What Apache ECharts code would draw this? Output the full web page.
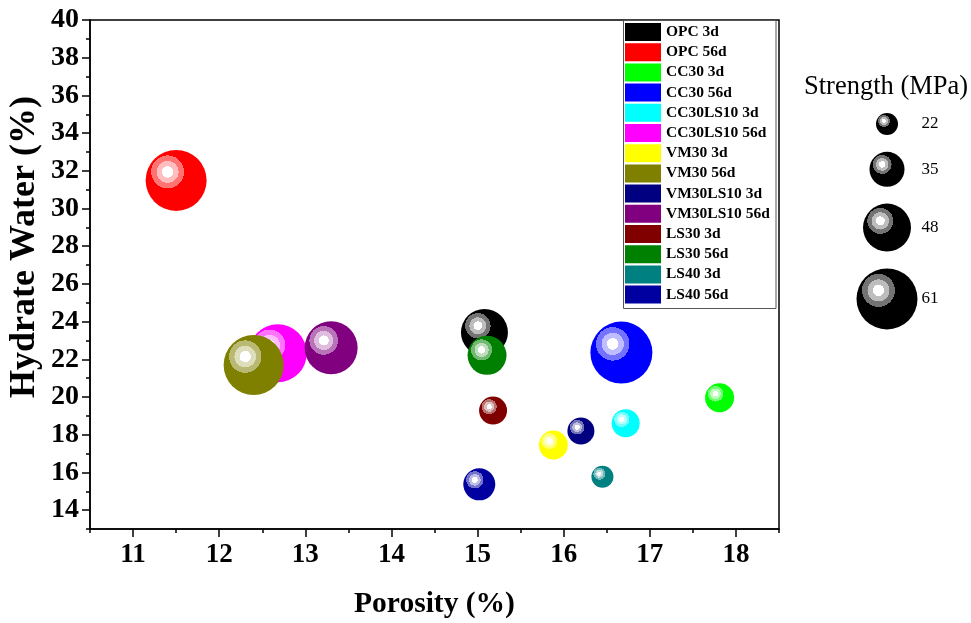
<!DOCTYPE html>
<html>
<head>
<meta charset="utf-8">
<script src="https://cdn.jsdelivr.net/npm/echarts@6/dist/echarts.min.js"></script>
<style>
html,body{margin:0;padding:0;background:#fff;}
#chart{width:971px;height:623px;}
</style>
</head>
<body>
<div id="chart"></div>
<script>
// ---- data ----
const categories = ['OPC 3d', 'OPC 56d', 'CC30 3d', 'CC30 56d', 'CC30LS10 3d', 'CC30LS10 56d', 'VM30 3d', 'VM30 56d', 'VM30LS10 3d', 'VM30LS10 56d', 'LS30 3d', 'LS30 56d', 'LS40 3d', 'LS40 56d'];
const porosity     = [15.08, 11.50, 17.81, 16.67, 16.72, 12.68, 15.88, 12.40, 16.20, 13.30, 15.18, 15.11, 16.45, 15.02];
const hydrateWater = [23.43, 31.49, 19.96, 22.36, 18.61, 22.32, 17.45, 21.70, 18.20, 22.61, 19.28, 22.21, 15.77, 15.37];
const strength     = [47, 61, 29, 62, 28, 58, 29, 60, 27, 53, 28, 39, 22, 32];
const sizeLegendValues = [22, 35, 48, 61];
const xMajorTicks = [11, 12, 13, 14, 15, 16, 17, 18];
const xMinorTicks = [10.5, 11.5, 12.5, 13.5, 14.5, 15.5, 16.5, 17.5, 18.5];
const yMajorTicks = [14, 16, 18, 20, 22, 24, 26, 28, 30, 32, 34, 36, 38, 40];
const yMinorTicks = [13, 15, 17, 19, 21, 23, 25, 27, 29, 31, 33, 35, 37, 39];

// ---- styles ----
const colors = ['#000000', '#ff0000', '#00ff00', '#0000ff', '#00ffff', '#ff00ff', '#ffff00', '#808000', '#000080', '#800080', '#800000', '#008000', '#008080', '#0000a0'];
const FONT = '"Liberation Serif", "Times New Roman", serif';

function mix(hex, t) {
  const r = parseInt(hex.slice(1, 3), 16), g = parseInt(hex.slice(3, 5), 16), b = parseInt(hex.slice(5, 7), 16);
  const f = v => Math.round(v + (255 - v) * t);
  return 'rgb(' + f(r) + ',' + f(g) + ',' + f(b) + ')';
}
function ball(hex) {
  const light = mix(hex, 0.74), mid = mix(hex, 0.45);
  return new echarts.graphic.RadialGradient(0.36, 0.36, 0.75, [
    {offset: 0, color: '#ffffff'}, {offset: 0.124, color: '#ffffff'},
    {offset: 0.125, color: light}, {offset: 0.239, color: light},
    {offset: 0.24, color: mid}, {offset: 0.359, color: mid},
    {offset: 0.36, color: hex}, {offset: 1, color: hex}
  ]);
}

const chart = echarts.init(document.getElementById('chart'), null, {renderer: 'canvas'});

const mainSeries = categories.map((name, i) => ({
  type: 'scatter',
  name: name,
  xAxisIndex: 0,
  yAxisIndex: 0,
  data: [[porosity[i], hydrateWater[i], strength[i]]],
  symbolSize: d => d[2],
  itemStyle: {color: ball(colors[i]), opacity: 1},
  emphasis: {disabled: true},
  z: 3
}));

// size legend positions derived from the legend values (stacked with equal gaps)
const gap = 16.8;
let acc = 0;
const sizeLegendData = sizeLegendValues.map((v) => {
  const c = acc + v / 2;
  acc += v + gap;
  return {value: [0, c, v]};
});

const sizeSeries = {
  type: 'scatter',
  name: 'size',
  xAxisIndex: 2,
  yAxisIndex: 2,
  data: sizeLegendData,
  symbolSize: d => d[2],
  itemStyle: {color: ball('#000000'), opacity: 1},
  emphasis: {disabled: true},
  label: {
    show: true,
    position: 'inside',
    offset: [43, 0],
    formatter: p => String(p.value[2]),
    color: '#000',
    fontFamily: FONT,
    fontSize: 17
  }
};

const axisCommon = {
  axisLine: {show: true, onZero: false, lineStyle: {color: '#000', width: 1.5}},
  splitLine: {show: false}
};

chart.setOption({
  animation: false,
  backgroundColor: '#fff',
  title: {
    text: 'Strength (MPa)',
    left: 804,
    top: 74,
    padding: 0,
    textStyle: {fontFamily: FONT, fontWeight: 'normal', fontSize: 26.5, color: '#000'}
  },
  legend: {
    orient: 'vertical',
    left: 625,
    top: 23,
    padding: 0,
    itemWidth: 36,
    itemHeight: 18,
    itemGap: 2.2,
    icon: 'rect',
    selectedMode: false,
    data: categories.map((n, i) => ({name: n, itemStyle: {color: colors[i]}})),
    textStyle: {fontFamily: FONT, fontWeight: 'bold', fontSize: 15.5, color: '#000', padding: [0, 0, 0, 0]}
  },
  graphic: [{
    type: 'rect',
    shape: {x: 623.5, y: 20.5, width: 152.5, height: 288},
    style: {fill: null, stroke: '#555', lineWidth: 1},
    z: 10
  }, {
    type: 'text',
    x: 25,
    y: 247,
    rotation: Math.PI / 2,
    style: {
      text: 'Hydrate Water (%)',
      fontFamily: FONT, fontWeight: 'bold', fontSize: 36, fill: '#000',
      align: 'center', verticalAlign: 'middle'
    },
    z: 10
  }],
  grid: [
    {left: 90, right: 192, top: 20, bottom: 94, show: true, borderColor: '#000', borderWidth: 1.5, backgroundColor: 'transparent', outerBoundsMode: 'none', containLabel: false},
    {left: 856, top: 113, width: 62, height: 200, show: false, outerBoundsMode: 'none'}
  ],
  xAxis: [
    Object.assign({}, axisCommon, {
      type: 'value', gridIndex: 0, min: 10.5, max: 18.5, position: 'bottom',
      axisTick: {show: true, customValues: xMajorTicks, length: 8, lineStyle: {color: '#000', width: 1.5}},
      axisLabel: {customValues: xMajorTicks, fontFamily: FONT, fontWeight: 'bold', fontSize: 27, color: '#000', margin: 13},
      name: 'Porosity (%)', nameLocation: 'middle', nameGap: 60, nameMoveOverlap: false,
      nameTextStyle: {fontFamily: FONT, fontWeight: 'bold', fontSize: 29.5, color: '#000'}
    }),
    {
      type: 'value', gridIndex: 0, min: 10.5, max: 18.5, position: 'bottom', offset: 0,
      axisLine: {show: false, onZero: false},
      axisTick: {show: true, customValues: xMinorTicks, length: 4, lineStyle: {color: '#000', width: 1.5}},
      axisLabel: {show: false},
      splitLine: {show: false}
    },
    {type: 'category', gridIndex: 1, data: ['s'], show: false}
  ],
  yAxis: [
    Object.assign({}, axisCommon, {
      type: 'value', gridIndex: 0, min: 13, max: 40, position: 'left',
      axisTick: {show: true, customValues: yMajorTicks, length: 8, lineStyle: {color: '#000', width: 1.5}},
      axisLabel: {customValues: yMajorTicks, fontFamily: FONT, fontWeight: 'bold', fontSize: 28, color: '#000', margin: 11}
    }),
    {
      type: 'value', gridIndex: 0, min: 13, max: 40, position: 'left', offset: 0,
      axisLine: {show: false, onZero: false},
      axisTick: {show: true, customValues: yMinorTicks, length: 4, lineStyle: {color: '#000', width: 1.5}},
      axisLabel: {show: false},
      splitLine: {show: false}
    },
    {type: 'value', gridIndex: 1, min: 0, max: 200, inverse: true, show: false}
  ],
  series: mainSeries.concat([sizeSeries])
});
</script>
</body>
</html>
